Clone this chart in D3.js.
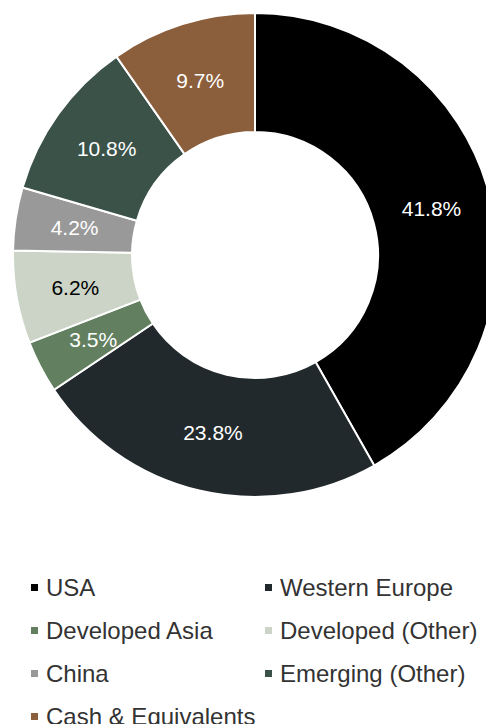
<!DOCTYPE html>
<html>
<head>
<meta charset="utf-8">
<script src="https://cdn.jsdelivr.net/npm/d3@7"></script>
<style>
  body { margin: 0; background: #fff; }
  svg { display: block; font-family: 'Liberation Sans', Arial, sans-serif; }
</style>
</head>
<body>
<svg width="486" height="724"></svg>
<script>
const categories = ['USA', 'Western Europe', 'Developed Asia', 'Developed (Other)', 'China', 'Emerging (Other)', 'Cash & Equivalents'];
const shares = [41.8, 23.8, 3.5, 6.2, 4.2, 10.8, 9.7];
const colors = ['#000000', '#22292c', '#62805f', '#cbd4c6', '#999999', '#3b5249', '#8b5e3c'];
const labelColors = ['#ffffff', '#ffffff', '#ffffff', '#000000', '#ffffff', '#ffffff', '#ffffff'];

const svg = d3.select('svg');

const cx = 255;
const cy = 255;
const outerRadius = 242;
const innerRadius = 123;

const data = categories.map((name, i) => ({name, value: shares[i], i}));

const pie = d3.pie()
    .value(d => d.value)
    .sort(null);

const arc = d3.arc()
    .innerRadius(innerRadius)
    .outerRadius(outerRadius);

const g = svg.append('g')
    .attr('transform', `translate(${cx},${cy})`);

const arcs = pie(data);

g.selectAll('path')
  .data(arcs)
  .join('path')
    .attr('d', arc)
    .attr('fill', d => colors[d.data.i])
    .attr('stroke', '#fff')
    .attr('stroke-width', 2);

g.selectAll('text')
  .data(arcs)
  .join('text')
    .attr('transform', d => `translate(${arc.centroid(d)})`)
    .attr('text-anchor', 'middle')
    .attr('dy', '0.36em')
    .attr('fill', d => labelColors[d.data.i])
    .style('font-size', '21px')
    .text(d => d.data.value.toFixed(1) + '%');

// legend, two columns
const legendX = [31, 265];
const legendY0 = 584;
const rowGap = 43;
const sq = 7;

const legend = svg.append('g');
const items = legend.selectAll('g')
  .data(data)
  .join('g')
    .attr('transform', d => `translate(${legendX[d.i % 2]},${legendY0 + Math.floor(d.i / 2) * rowGap})`);

items.append('rect')
    .attr('width', sq)
    .attr('height', sq)
    .attr('fill', d => colors[d.i]);

items.append('text')
    .attr('x', 15)
    .attr('y', 12)
    .attr('fill', '#333')
    .style('font-size', '24px')
    .text(d => d.name);
</script>
</body>
</html>
